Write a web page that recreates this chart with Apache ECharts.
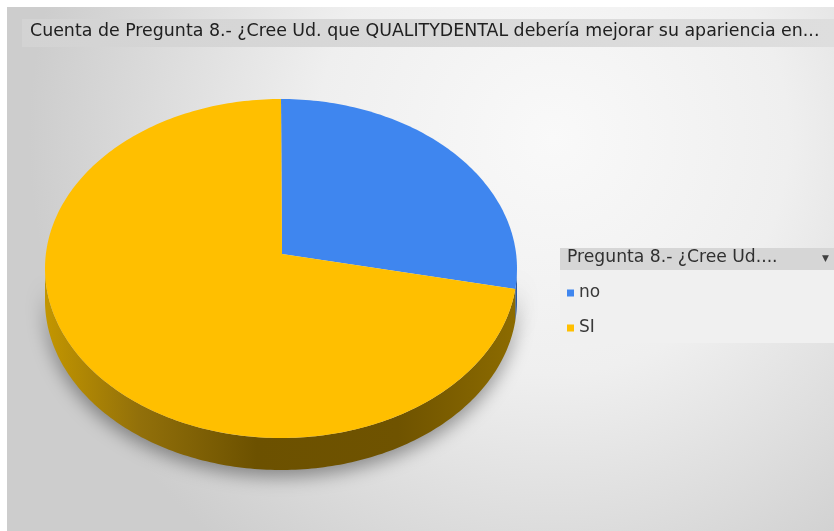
<!DOCTYPE html>
<html>
<head>
<meta charset="utf-8">
<script src="https://cdn.jsdelivr.net/npm/echarts@6/dist/echarts.min.js"></script>
<style>
  html, body { margin: 0; padding: 0; background: #ffffff; }
  #chart { width: 834px; height: 531px; }
</style>
</head>
<body>
<div id="chart"></div>
<script>
// Survey answers: count of responses per option
const categories = ['no', 'SI'];
const counts = [7, 19];
const sliceColors = ['#3f86ef', '#ffbf00'];
const titleText = 'Cuenta de Pregunta 8.- ¿Cree Ud. que QUALITYDENTAL debería mejorar su apariencia en...';
const legendHeader = 'Pregunta 8.- ¿Cree Ud....';

const uiFont = '"DejaVu Sans", Verdana, sans-serif';

// Geometry of the tilted 3D pie (top face is an ellipse, apex slightly above its centre)
const pie = { cx: 281, cy: 268.5, rx: 236, ry: 169.5, ax: 282, ay: 254, depth: 32 };
const total = counts.reduce((a, b) => a + b, 0);

function rim(theta) {
  return [pie.cx + pie.rx * Math.sin(theta), pie.cy - pie.ry * Math.cos(theta)];
}
function arcPoints(a0, a1) {
  const pts = [];
  const steps = Math.max(2, Math.ceil((a1 - a0) / (Math.PI / 180)));
  for (let k = 0; k <= steps; k++) pts.push(rim(a0 + (a1 - a0) * k / steps));
  return pts;
}

const sideGradient = new echarts.graphic.LinearGradient(0, 0, 1, 0, [
  { offset: 0, color: '#c39600' },
  { offset: 0.2, color: '#92700a' },
  { offset: 0.45, color: '#6c5100' },
  { offset: 0.75, color: '#6f5300' },
  { offset: 1, color: '#8c6b00' }
]);
const blueSide = '#2a5aa8';

function renderSlice(idx) {
  return function (params, api) {
    const value = api.value(0);
    let before = 0;
    for (let j = 0; j < idx; j++) before += counts[j];
    const a0 = before / total * Math.PI * 2;
    const a1 = (before + value) / total * Math.PI * 2;
    const children = [];
    // visible front wall: angles between 90° and 270° (measured clockwise from top)
    const s0 = Math.max(a0, Math.PI / 2);
    const s1 = Math.min(a1, Math.PI * 1.5);
    if (s1 > s0) {
      const topEdge = arcPoints(s0, s1);
      const bottomEdge = topEdge.map(p => [p[0], p[1] + pie.depth]).reverse();
      children.push({
        type: 'polygon',
        shape: { points: topEdge.concat(bottomEdge) },
        style: {
          fill: idx === 0 ? blueSide : sideGradient,
          shadowColor: 'rgba(0,0,0,0.38)',
          shadowBlur: 18,
          shadowOffsetY: 7
        }
      });
    }
    // top face
    children.push({
      type: 'polygon',
      shape: { points: [[pie.ax, pie.ay]].concat(arcPoints(a0, a1)) },
      style: { fill: api.visual('color') }
    });
    return { type: 'group', children: children };
  };
}

const series = categories.map((name, i) => ({
  type: 'custom',
  name: name,
  coordinateSystem: 'none',
  data: [[counts[i]]],
  itemStyle: { color: sliceColors[i] },
  renderItem: renderSlice(i),
  silent: true,
  z: 2
}));

const chart = echarts.init(document.getElementById('chart'), null, { renderer: 'canvas' });
chart.setOption({
  animation: false,
  backgroundColor: '#ffffff',
  graphic: [
    {
      type: 'rect', z: -10, silent: true,
      shape: { x: 7, y: 7, width: 827, height: 524 },
      style: {
        fill: new echarts.graphic.RadialGradient(0.66, 0.25, 1.0, [
          { offset: 0, color: '#f9f9f9' },
          { offset: 0.45, color: '#efefef' },
          { offset: 1, color: '#cdcdcd' }
        ])
      }
    },
    {
      type: 'rect', z: -5, silent: true,
      shape: { x: 22, y: 19, width: 812, height: 28 },
      style: {
        fill: new echarts.graphic.LinearGradient(0, 0, 1, 0, [
          { offset: 0, color: '#d3d3d3' },
          { offset: 1, color: '#dedede' }
        ])
      }
    },
    {
      type: 'rect', z: -5, silent: true,
      shape: { x: 560, y: 248, width: 274, height: 22 },
      style: { fill: '#d6d6d6' }
    },
    {
      type: 'rect', z: -5, silent: true,
      shape: { x: 560, y: 270, width: 274, height: 73 },
      style: { fill: '#f0f0f0' }
    },
    {
      type: 'text', z: 5, silent: true,
      left: 567, top: 249,
      style: { text: legendHeader, fill: '#303030', font: '17.2px ' + uiFont }
    },
    {
      type: 'text', z: 5, silent: true,
      left: 822, top: 254,
      style: { text: '▼', fill: '#404040', font: '9px "DejaVu Sans", sans-serif' }
    }
  ],
  title: {
    text: titleText,
    left: 22,
    top: 23,
    padding: [0, 0, 0, 8],
    textStyle: {
      fontFamily: uiFont,
      fontSize: 17.4,
      fontWeight: 'normal',
      color: '#202020'
    }
  },
  legend: {
    orient: 'vertical',
    left: 562,
    top: 279,
    itemWidth: 7,
    itemHeight: 7,
    itemGap: 17,
    icon: 'rect',
    data: categories,
    textStyle: {
      fontFamily: uiFont,
      fontSize: 17,
      color: '#3a3a3a',
      lineHeight: 18
    }
  },
  series: series
});
</script>
</body>
</html>
